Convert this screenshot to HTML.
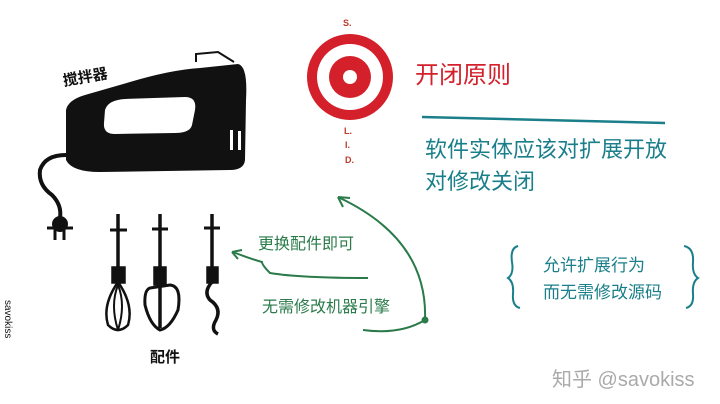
<!DOCTYPE html>
<html><head><meta charset="utf-8"><style>
html,body{margin:0;padding:0;background:#fff;}
svg{display:block;}
text{font-family:"Liberation Sans","Noto Sans CJK SC",sans-serif;}
</style></head><body>
<svg width="720" height="404" viewBox="0 0 720 404">
<g>
  <path d="M66 110 Q68 100 85 95 L130 82 Q170 70 200 68 L238 64 Q248 66 246 100 L245 160 Q244 170 230 170 L100 172 Q72 172 66 160 Z" fill="#111"/>
  <path d="M105 110 Q108 100 125 99 L185 97 Q197 97 195 110 L192 125 Q190 133 175 133 L115 134 Q103 134 104 123 Z" fill="#fff"/>
  <path d="M196 62 L196 54 L218 52 L234 62" stroke="#111" stroke-width="2" fill="none"/>
  <rect x="230" y="130" width="3" height="20" fill="#fff"/><rect x="238" y="131" width="3" height="19" fill="#fff"/>
  <path d="M66 155 Q45 155 40 170 Q38 185 52 195 Q62 205 60 218" stroke="#111" stroke-width="4" fill="none"/>
  <circle cx="60" cy="224" r="8" fill="#111"/>
  <line x1="47" y1="228" x2="73" y2="228" stroke="#111" stroke-width="3"/>
  <line x1="55" y1="228" x2="55" y2="240" stroke="#111" stroke-width="3"/>
  <line x1="64" y1="228" x2="64" y2="240" stroke="#111" stroke-width="3"/>
  <text x="64" y="86" font-size="15" font-weight="bold" fill="#111" transform="rotate(-10 64 86)">搅拌器</text>
</g>
<g stroke="#111" fill="none" stroke-width="3.5">
  <line x1="118" y1="214" x2="118" y2="285"/>
  <line x1="110" y1="230" x2="127" y2="230" stroke-width="3"/>
  <rect x="113" y="268" width="11" height="14" fill="#111"/>
  <path d="M118 282 Q102 305 108 325 Q118 335 128 325 Q134 305 118 282" stroke-width="2.5"/>
  <path d="M118 285 Q110 305 118 330 M118 285 Q126 305 118 330" stroke-width="2"/>
  <line x1="160" y1="214" x2="160" y2="328"/>
  <line x1="152" y1="229" x2="168" y2="229" stroke-width="3"/>
  <rect x="155" y="268" width="10" height="16" fill="#111"/>
  <path d="M150 288 L170 285 Q182 286 178 310 Q170 328 160 330 Q150 325 145 305 Q144 290 150 288 Z" stroke-width="3"/>
  <line x1="212" y1="214" x2="212" y2="282"/>
  <line x1="204" y1="228" x2="220" y2="228" stroke-width="3"/>
  <rect x="208" y="268" width="9" height="14" fill="#111"/>
  <path d="M212 282 Q203 292 210 300 Q222 308 216 320 Q210 330 218 334" stroke-width="3.5"/>
</g>
<text x="150" y="362" font-size="15" font-weight="bold" fill="#111">配件</text>
<text x="0" y="0" font-size="10" fill="#111" transform="translate(5 300) rotate(90)">savokiss</text>
<g>
  <circle cx="350" cy="77" r="43" fill="#d4202a"/>
  <circle cx="350" cy="77" r="33" fill="#fff"/>
  <circle cx="350" cy="77" r="21" fill="#d4202a"/>
  <circle cx="350" cy="77" r="7" fill="#fff"/>
  <text x="343" y="26" font-size="9" font-weight="bold" fill="#c0392b">S.</text>
  <text x="344" y="134" font-size="9" font-weight="bold" fill="#c0392b">L.</text>
  <text x="345" y="148" font-size="9" font-weight="bold" fill="#c0392b">I.</text>
  <text x="345" y="163" font-size="9" font-weight="bold" fill="#c0392b">D.</text>
</g>
<text x="415" y="83" font-size="24" fill="#d4202a">开闭原则</text>
<line x1="422" y1="117" x2="665" y2="123" stroke="#1a7f8a" stroke-width="2.5"/>
<text x="425" y="157" font-size="22" fill="#1a7f8a">软件实体应该对扩展开放</text>
<text x="425" y="189" font-size="22" fill="#1a7f8a">对修改关闭</text>
<g stroke="#2a7a4a" stroke-width="2" fill="none">
  <path d="M363 330 Q400 335 425 320 Q428 240 340 198"/>
  <path d="M338 197 L350 198 M338 197 L343 207"/>
  <path d="M368 278 Q300 278 270 273 Q262 265 262 262 Q248 258 233 252"/>
  <path d="M232 252 L242 250 M232 252 L238 259"/>
  <circle cx="425" cy="320" r="2.5" fill="#2a7a4a"/>
</g>
<text x="258" y="249" font-size="16" fill="#2a7a4a">更换配件即可</text>
<text x="262" y="312" font-size="16" fill="#2a7a4a">无需修改机器引擎</text>
<g stroke="#1a7f8a" stroke-width="2" fill="none">
  <path d="M518 246 Q510 248 512 262 Q514 274 508 278 Q514 282 513 294 Q512 306 520 308"/>
  <path d="M684 246 Q694 248 693 262 Q692 274 698 278 Q692 282 693 294 Q694 306 686 308"/>
</g>
<text x="543" y="271" font-size="17" fill="#1a7f8a">允许扩展行为</text>
<text x="543" y="298" font-size="17" fill="#1a7f8a">而无需修改源码</text>
<text x="552" y="386" font-size="20" fill="#aaaaaa">知乎 @savokiss</text>
</svg>
</body></html>
